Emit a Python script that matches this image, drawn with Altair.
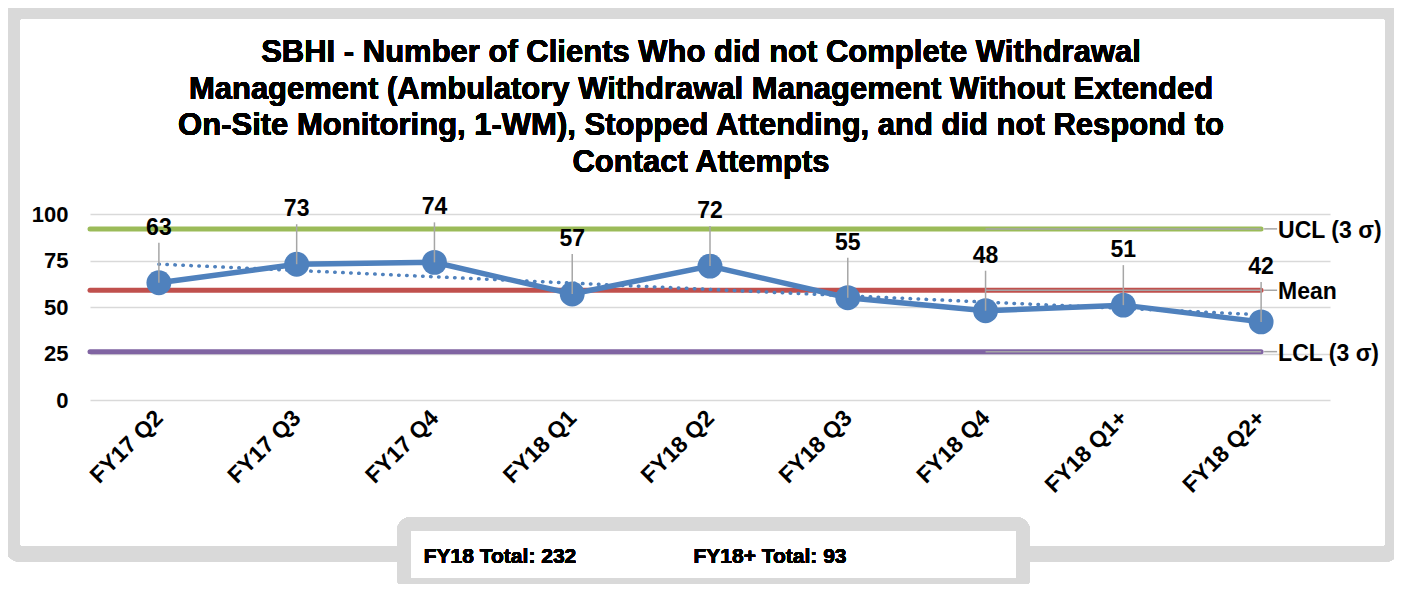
import altair as alt
import pandas as pd

# ---- data ----
categories = ["FY17 Q2", "FY17 Q3", "FY17 Q4", "FY18 Q1", "FY18 Q2",
              "FY18 Q3", "FY18 Q4", "FY18 Q1+", "FY18 Q2+"]
values = [63, 73, 74, 57, 72, 55, 48, 51, 42]
limit_names = ["UCL (3 σ)", "Mean", "LCL (3 σ)"]
limit_values = [92, 59, 26]
overlay_start = "FY18 Q4"
box_labels = ["FY18 Total: 232", "FY18+ Total: 93"]
title_lines = [
    "SBHI - Number of Clients Who did not Complete Withdrawal",
    "Management (Ambulatory Withdrawal Management Without Extended",
    "On-Site Monitoring, 1-WM), Stopped Attending, and did not Respond to",
    "Contact Attempts",
]
y_ticks = [0, 25, 50, 75, 100]

FONT = "Liberation Sans"
BLUE = "#4f81bd"
LIMIT_COLORS = ["#9bbb59", "#c0504d", "#8064a2"]
GRAY = "#a6a6a6"
FRAME = "#d9d9d9"

df = pd.DataFrame({"idx": list(range(len(categories))), "cat": categories, "value": values})
lim = pd.DataFrame({
    "name": limit_names,
    "value": limit_values,
    "start": [categories[0]] * len(limit_names),
    "end": [categories[-1]] * len(limit_names),
    "ostart": [overlay_start] * len(limit_names),
})

xscale = alt.Scale(type="point", domain=categories, padding=0.5)
yscale = alt.Scale(domain=[0, 100])

X = alt.X("cat:N", scale=xscale, title=None,
          axis=alt.Axis(labelAngle=-45, labelAlign="right", labelBaseline="middle",
                        labelFont=FONT, labelFontSize=23, labelFontWeight="bold",
                        labelColor="black", labelPadding=14, ticks=False, domain=False,
                        grid=False))
Y = alt.Y("value:Q", scale=yscale, title=None,
          axis=alt.Axis(values=y_ticks, labelFont=FONT, labelFontSize=22, labelFontWeight="bold",
                        labelColor="black", labelPadding=22, ticks=False, domain=False,
                        grid=True, gridColor="#d9d9d9", gridWidth=1.5))

base = alt.Chart(df)

# decorative outer frame and bottom box
frame = alt.Chart(df).mark_rect(filled=False, stroke=FRAME, strokeWidth=16, cornerRadius=9).encode(
    x=alt.value(-78), x2=alt.value(1303), y=alt.value(-203), y2=alt.value(340))
box = alt.Chart(df).mark_rect(fill="white", stroke=FRAME, strokeWidth=14, cornerRadius=7).encode(
    x=alt.value(314), x2=alt.value(933), y=alt.value(310), y2=alt.value(371))
box_text = [
    alt.Chart(df).mark_text(text=box_labels[i], font=FONT, fontSize=21, fontWeight="bold",
                            color="black", align="center", baseline="middle").encode(
        x=alt.value(px), y=alt.value(343))
    for i, px in enumerate([410, 680])
]
title_text = [
    alt.Chart(df).mark_text(text=title_lines[i], font=FONT, fontSize=31, fontWeight="bold",
                            color="black", align="center", baseline="alphabetic").encode(
        x=alt.value(611), y=alt.value(py))
    for i, py in enumerate([-152, -115, -79, -42])
]

limits = alt.Chart(lim).mark_rule(strokeWidth=5, strokeCap="round").encode(
    x=X, x2="end:N", y=alt.Y("value:Q", scale=yscale),
    color=alt.Color("name:N", scale=alt.Scale(domain=limit_names, range=LIMIT_COLORS), legend=None))
overlay = alt.Chart(lim).mark_rule(strokeWidth=1.5, color=GRAY).encode(
    x=alt.X("ostart:N", scale=xscale), x2="end:N", y=alt.Y("value:Q", scale=yscale))
lim_leader = alt.Chart(lim).mark_rule(strokeWidth=1.5, color=GRAY, xOffset=3, x2Offset=16).encode(
    x=alt.X("end:N", scale=xscale), x2="end:N", y=alt.Y("value:Q", scale=yscale))
lim_text = alt.Chart(lim).mark_text(font=FONT, fontSize=23, fontWeight="bold", color="black",
                                    align="left", baseline="middle", dx=17, dy=2).encode(
    x=alt.X("end:N", scale=xscale), y=alt.Y("value:Q", scale=yscale), text="name:N")

trend = base.transform_regression("idx", "value").transform_lookup(
    lookup="idx", from_=alt.LookupData(df, "idx", ["cat"])
).mark_line(color=BLUE, strokeWidth=3.5, strokeDash=[0.5, 7.5], strokeCap="round").encode(
    x=alt.X("cat:N", scale=xscale), y=alt.Y("value:Q", scale=yscale))

line = base.mark_line(color=BLUE, strokeWidth=5.5).encode(x=X, y=Y)
points = base.mark_point(filled=True, shape="circle", size=620, color=BLUE, opacity=1).encode(
    x=alt.X("cat:N", scale=xscale), y=alt.Y("value:Q", scale=yscale))
leaders = base.mark_rule(color=GRAY, strokeWidth=1.5, y2Offset=-40).encode(
    x=alt.X("cat:N", scale=xscale), y=alt.Y("value:Q", scale=yscale), y2="value:Q")
labels = base.mark_text(font=FONT, fontSize=23, fontWeight="bold", color="black",
                        baseline="middle", dy=-55).encode(
    x=alt.X("cat:N", scale=xscale), y=alt.Y("value:Q", scale=yscale), text="value:Q")

chart = alt.layer(
    frame, *title_text, limits, overlay, lim_leader, lim_text, trend, line, points,
    leaders, labels, box, *box_text
).properties(
    width=1240, height=186,
    padding={"left": 82, "top": 206, "right": 64, "bottom": 184},
    autosize=alt.AutoSizeParams(type="none"),
).configure_view(stroke=None)

chart.save("out.html", embed_options={"renderer": "svg", "actions": False})
